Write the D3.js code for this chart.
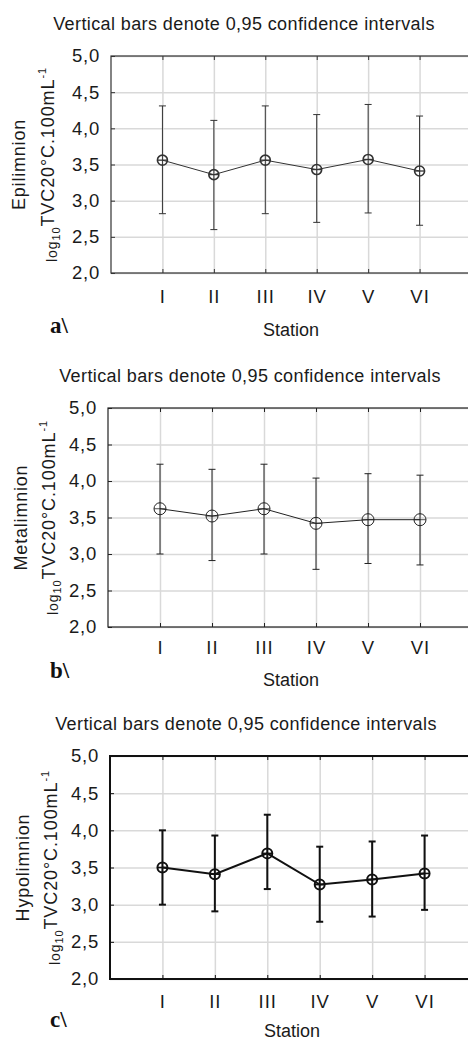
<!DOCTYPE html>
<html>
<head>
<meta charset="utf-8">
<script src="https://cdn.jsdelivr.net/npm/d3@7"></script>
<style>
body { margin: 0; background: #fff; }
svg { display: block; font-family: "Liberation Sans", Arial, sans-serif; }
</style>
</head>
<body>
<div id="chart"></div>
<script>
// data
var stations = ["I", "II", "III", "IV", "V", "VI"];
var yTicks = [2.0, 2.5, 3.0, 3.5, 4.0, 4.5, 5.0];

var epiMean = [3.56, 3.36, 3.56, 3.43, 3.57, 3.41];
var epiLow  = [2.82, 2.60, 2.82, 2.70, 2.83, 2.66];
var epiHigh = [4.31, 4.11, 4.31, 4.19, 4.33, 4.17];

var metaMean = [3.62, 3.52, 3.62, 3.42, 3.47, 3.47];
var metaLow  = [3.00, 2.91, 3.00, 2.79, 2.87, 2.85];
var metaHigh = [4.23, 4.16, 4.23, 4.04, 4.10, 4.08];

var hypoMean = [3.50, 3.41, 3.69, 3.27, 3.34, 3.42];
var hypoLow  = [3.00, 2.91, 3.21, 2.77, 2.84, 2.93];
var hypoHigh = [4.00, 3.93, 4.21, 3.78, 3.85, 3.93];

var titleText = "Vertical bars denote 0,95 confidence intervals";
var xTitle = "Station";
var layers = ["Epilimnion", "Metalimnion", "Hypolimnion"];
var panelTags = ["a\\", "b\\", "c\\"];

var width = 468, height = 1042;

var svg = d3.select("#chart").append("svg")
	.attr("width", width)
	.attr("height", height);

// panel geometry (pixels)
var panels = [
	{left: 111, right: 471, top: 56, bottom: 273, titleX: 244, stX: 291, lab1: 25, lab2: 54, tagY: 333,
	 xLab: 30, stY: 63, ink: "#333", lw: 1, mr: 5, mw: 1.6, fw: 1.2},
	{left: 108, right: 472, top: 408, bottom: 627, titleX: 250, stX: 291, lab1: 27, lab2: 55, tagY: 678,
	 xLab: 27, stY: 59, ink: "#222", lw: 1, mr: 6, mw: 1, fw: 1.2},
	{left: 110, right: 477, top: 756, bottom: 979, titleX: 246, stX: 292, lab1: 29, lab2: 57, tagY: 1027,
	 xLab: 29, stY: 58, ink: "#111", lw: 2, mr: 5, mw: 2, fw: 2}
];

var series = [
	[epiMean, epiLow, epiHigh],
	[metaMean, metaLow, metaHigh],
	[hypoMean, hypoLow, hypoHigh]
];

function fmt(d) { return d.toFixed(1).replace(".", ","); }

function drawPanel(p, k) {
	var mean = series[k][0], low = series[k][1], high = series[k][2];
	var g = svg.append("g");

	var x = d3.scalePoint().domain(stations).range([p.left, p.right]).padding(1);
	var y = d3.scaleLinear().domain([2, 5]).range([p.bottom, p.top]);

	// grid
	g.append("g")
		.attr("transform", "translate(" + p.left + ",0)")
		.call(d3.axisLeft(y).tickValues(yTicks).tickSize(-(p.right - p.left)).tickFormat(""))
		.call(function(s) {
			s.select(".domain").remove();
			s.selectAll("line").attr("stroke", "#d9d9d9").attr("stroke-width", 1.5);
		});
	g.append("g")
		.attr("transform", "translate(0," + p.bottom + ")")
		.call(d3.axisBottom(x).tickSize(-(p.bottom - p.top)).tickFormat(""))
		.call(function(s) {
			s.select(".domain").remove();
			s.selectAll("line").attr("stroke", "#d9d9d9").attr("stroke-width", 1.5);
		});

	// frame
	g.append("rect")
		.attr("x", p.left).attr("y", p.top)
		.attr("width", p.right - p.left).attr("height", p.bottom - p.top)
		.attr("fill", "none").attr("stroke", p.ink).attr("stroke-width", p.fw);

	// axes with inward ticks
	var yAxis = g.append("g")
		.attr("transform", "translate(" + p.left + ",0)")
		.call(d3.axisLeft(y).tickValues(yTicks).tickSize(-4).tickPadding(11).tickFormat(fmt));
	yAxis.select(".domain").remove();
	yAxis.selectAll("line").attr("stroke", p.ink);
	yAxis.selectAll("text").attr("font-size", 18.5).attr("letter-spacing", 0.8).attr("fill", "#1a1a1a")
		.attr("font-family", "'Liberation Sans', Arial, sans-serif");

	var xAxis = g.append("g")
		.attr("transform", "translate(0," + p.bottom + ")")
		.call(d3.axisBottom(x).tickSize(-4));
	xAxis.select(".domain").remove();
	xAxis.selectAll("line").attr("stroke", p.ink);
	xAxis.selectAll("text").attr("font-size", 18.5).attr("letter-spacing", 1).attr("fill", "#1a1a1a")
		.attr("font-family", "'Liberation Sans', Arial, sans-serif")
		.attr("y", p.xLab).attr("dy", 0);

	var topAxis = g.append("g")
		.attr("transform", "translate(0," + p.top + ")")
		.call(d3.axisTop(x).tickSize(-4).tickFormat(""));
	topAxis.select(".domain").remove();
	topAxis.selectAll("line").attr("stroke", p.ink);

	// error bars
	var bars = g.append("g").attr("stroke", p.ink).attr("stroke-width", p.lw);
	bars.selectAll(".whisker").data(stations).join("line")
		.attr("x1", function(d) { return x(d); })
		.attr("x2", function(d) { return x(d); })
		.attr("y1", function(d, i) { return y(low[i]); })
		.attr("y2", function(d, i) { return y(high[i]); });
	bars.selectAll(".capHi").data(stations).join("line")
		.attr("x1", function(d) { return x(d) - 3.5; })
		.attr("x2", function(d) { return x(d) + 3.5; })
		.attr("y1", function(d, i) { return y(high[i]); })
		.attr("y2", function(d, i) { return y(high[i]); });
	bars.selectAll(".capLo").data(stations).join("line")
		.attr("x1", function(d) { return x(d) - 3.5; })
		.attr("x2", function(d) { return x(d) + 3.5; })
		.attr("y1", function(d, i) { return y(low[i]); })
		.attr("y2", function(d, i) { return y(low[i]); });

	// mean line
	var line = d3.line()
		.x(function(d, i) { return x(stations[i]); })
		.y(function(d) { return y(d); });
	g.append("path")
		.datum(mean)
		.attr("d", line)
		.attr("fill", "none")
		.attr("stroke", p.ink)
		.attr("stroke-width", p.lw);

	// markers
	var m = g.append("g").selectAll("g").data(mean).join("g")
		.attr("transform", function(d, i) { return "translate(" + x(stations[i]) + "," + y(d) + ")"; });
	m.append("circle")
		.attr("r", p.mr)
		.attr("fill", "none")
		.attr("stroke", p.ink)
		.attr("stroke-width", p.mw);
	m.append("line")
		.attr("x1", -p.mr).attr("x2", p.mr)
		.attr("stroke", p.ink).attr("stroke-width", p.mw * 0.8);

	// title
	g.append("text")
		.attr("x", p.titleX).attr("y", p.top - 26)
		.attr("text-anchor", "middle")
		.attr("font-size", 18)
		.attr("letter-spacing", 0.4)
		.attr("fill", "#1a1a1a")
		.text(titleText);

	// x title
	g.append("text")
		.attr("x", p.stX).attr("y", p.bottom + p.stY)
		.attr("text-anchor", "middle")
		.attr("font-size", 18)
		.attr("fill", "#1a1a1a")
		.text(xTitle);

	// y title, two lines
	var midY = (p.top + p.bottom) / 2;
	g.append("text")
		.attr("transform", "translate(" + p.lab1 + "," + midY + ") rotate(-90)")
		.attr("text-anchor", "middle")
		.attr("font-size", 18)
		.attr("letter-spacing", 0.8)
		.attr("fill", "#1a1a1a")
		.text(layers[k]);

	var t2 = g.append("text")
		.attr("transform", "translate(" + p.lab2 + "," + midY + ") rotate(-90)")
		.attr("text-anchor", "middle")
		.attr("letter-spacing", 0.9)
		.attr("fill", "#1a1a1a");
	t2.append("tspan").attr("font-size", 14).attr("dy", 3).text("log");
	t2.append("tspan").attr("font-size", 11).attr("dy", 3).text("10");
	t2.append("tspan").attr("font-size", 18).attr("dy", -6).text("TVC20°C.100mL");
	t2.append("tspan").attr("font-size", 11).attr("dy", -8).text("-1");

	// panel tag
	g.append("text")
		.attr("x", 50).attr("y", p.tagY)
		.attr("font-family", "'Liberation Serif', 'Times New Roman', serif")
		.attr("font-weight", "bold")
		.attr("font-size", 23)
		.attr("fill", "#111")
		.text(panelTags[k]);
}

panels.forEach(drawPanel);
</script>
</body>
</html>
